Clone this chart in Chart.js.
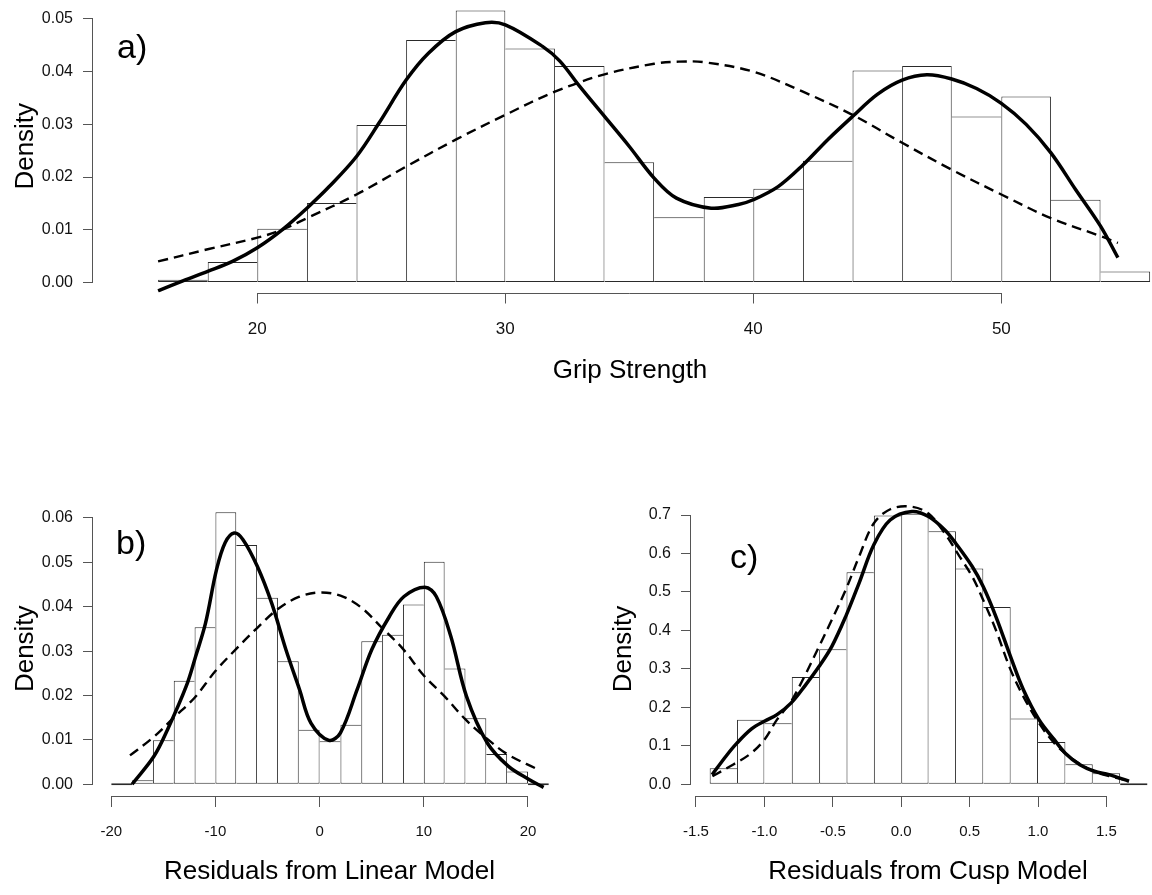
<!DOCTYPE html>
<html><head><meta charset="utf-8">
<script src="https://cdn.jsdelivr.net/npm/chart.js@4.4.1/dist/chart.umd.min.js"></script>
<style>
html,body{margin:0;padding:0;background:#fff;width:1152px;height:895px;overflow:hidden;position:relative;}
canvas{position:absolute;}
.lab{position:absolute;font-family:"Liberation Sans",Arial,sans-serif;font-size:34px;line-height:1;color:#000;}
</style></head><body>
<canvas id="ca" width="1167" height="400" style="left:0;top:0"></canvas>
<canvas id="cb" width="566" height="415" style="left:0;top:480px"></canvas>
<canvas id="cc" width="567" height="415" style="left:598px;top:480px"></canvas>
<div class="lab" style="left:117px;top:29px">a)</div>
<div class="lab" style="left:116px;top:525px">b)</div>
<div class="lab" style="left:730px;top:539px">c)</div>
<script>
// ---------- Panel a: Grip Strength ----------
const aBinEdges = [16,18,20,22,24,26,28,30,32,34,36,38,40,42,44,46,48,50,52,54,56];
const aDensity = [0.0005,0.0039,0.0102,0.0151,0.0299,0.0460,0.0516,0.0444,0.0411,0.0228,0.0124,0.0162,0.0178,0.0231,0.0402,0.0411,0.0315,0.0353,0.0157,0.0021];
const aKernelX = [16.0,17.0,18.0,19.0,20.0,21.0,22.0,22.9,24.0,24.9,26.0,26.9,28.0,29.2,30.0,31.5,32.2,33.0,34.0,35.0,36.0,36.9,38.3,39.4,40.0,41.0,42.0,43.0,44.0,45.0,46.0,47.0,48.0,49.0,50.0,51.0,52.0,53.0,54.0,54.7];
const aKernelY = [-0.0016,0.0003,0.0021,0.0040,0.0066,0.0100,0.0141,0.0182,0.0239,0.0302,0.0384,0.0435,0.0476,0.0493,0.0489,0.0448,0.0420,0.0372,0.0315,0.0258,0.0198,0.0160,0.0141,0.0148,0.0157,0.0182,0.0223,0.0271,0.0315,0.0357,0.0384,0.0394,0.0386,0.0368,0.0340,0.0300,0.0246,0.0176,0.0107,0.0047];
const aNormalX = [16.0,18.0,20.0,21.0,22.0,24.0,26.0,28.0,30.0,32.0,34.0,36.0,37.0,38.0,40.0,42.0,44.0,46.0,48.0,50.0,52.0,54.0,54.7];
const aNormalY = [0.0040,0.0063,0.0085,0.0100,0.0122,0.0167,0.0220,0.0271,0.0318,0.0362,0.0395,0.0415,0.0419,0.0418,0.0400,0.0362,0.0318,0.0265,0.0214,0.0167,0.0122,0.0088,0.0075];
const aXTicks = [20,30,40,50];
const aXTickLabels = ['20','30','40','50'];
const aYTicks = [0,0.01,0.02,0.03,0.04,0.05];
const aYTickLabels = ['0.00','0.01','0.02','0.03','0.04','0.05'];

// ---------- Panel b: Residuals from Linear Model ----------
const bBinEdges = [-20,-18,-16,-14,-12,-10,-8,-6,-4,-2,0,2,4,6,8,10,12,14,16,18,20,22];
const bDensity = [0,0.0009,0.0099,0.0233,0.0354,0.0613,0.0539,0.0420,0.0277,0.0123,0.0097,0.0134,0.0322,0.0337,0.0405,0.0501,0.0261,0.0149,0.0068,0.0029,0];
const bKernelX = [-18.0,-15.9,-14.6,-12.8,-11.9,-10.95,-9.9,-9.07,-8.2,-7.35,-5.98,-4.6,-3.23,-1.92,-0.83,0.89,2.0,3.6,5.0,6.7,8.1,10.1,11.2,12.6,14.1,16.1,18.1,20.1,21.5];
const bKernelY = [0.0000,0.0063,0.0123,0.0221,0.0288,0.0363,0.0483,0.0544,0.0566,0.0551,0.0491,0.0408,0.0303,0.0213,0.0138,0.0099,0.0116,0.0213,0.0303,0.0378,0.0423,0.0444,0.0423,0.0333,0.0198,0.0093,0.0041,0.0011,-0.0007];
const bNormalX = [-18.2,-16,-14,-12,-10,-8,-6,-4,-2,0,2,4,6,8,10,12,14,16,18,20.8];
const bNormalY = [0.0065,0.0105,0.0150,0.0195,0.0255,0.0305,0.0352,0.0395,0.0422,0.0432,0.0425,0.0398,0.0352,0.0305,0.0245,0.0198,0.0146,0.0104,0.0068,0.0035];
const bXTicks = [-20,-10,0,10,20];
const bXTickLabels = ['-20','-10','0','10','20'];
const bYTicks = [0,0.01,0.02,0.03,0.04,0.05,0.06];
const bYTickLabels = ['0.00','0.01','0.02','0.03','0.04','0.05','0.06'];

// ---------- Panel c: Residuals from Cusp Model ----------
const cBinEdges = [-1.4,-1.2,-1.0,-0.8,-0.6,-0.4,-0.2,0.0,0.2,0.4,0.6,0.8,1.0,1.2,1.4,1.6,1.8];
const cDensity = [0.042,0.168,0.159,0.279,0.351,0.551,0.699,0.703,0.658,0.561,0.461,0.171,0.110,0.052,0.029,0];
const cKernelX = [-1.382,-1.281,-1.201,-1.094,-1.0,-0.908,-0.806,-0.708,-0.601,-0.508,-0.406,-0.308,-0.201,-0.081,0.079,0.199,0.319,0.399,0.519,0.599,0.692,0.799,0.893,1.007,1.119,1.199,1.306,1.412,1.519,1.665];
const cKernelY = [0.025,0.073,0.107,0.144,0.164,0.181,0.211,0.254,0.306,0.358,0.436,0.523,0.622,0.687,0.709,0.696,0.661,0.626,0.566,0.514,0.436,0.332,0.246,0.168,0.116,0.081,0.051,0.034,0.025,0.008];
const cNormalX = [-1.38,-1.23,-1.10,-1.0,-0.908,-0.806,-0.708,-0.601,-0.508,-0.406,-0.308,-0.201,-0.08,0.066,0.199,0.319,0.427,0.519,0.599,0.692,0.799,0.893,1.007,1.119,1.226,1.333,1.44,1.546,1.626];
const cNormalY = [0.021,0.051,0.080,0.116,0.168,0.215,0.280,0.358,0.427,0.505,0.592,0.678,0.715,0.722,0.704,0.652,0.592,0.540,0.479,0.401,0.298,0.228,0.159,0.107,0.073,0.047,0.029,0.019,0.012];
const cXTicks = [-1.5,-1.0,-0.5,0.0,0.5,1.0,1.5];
const cXTickLabels = ['-1.5','-1.0','-0.5','0.0','0.5','1.0','1.5'];
const cYTicks = [0,0.1,0.2,0.3,0.4,0.5,0.6,0.7];
const cYTickLabels = ['0.0','0.1','0.2','0.3','0.4','0.5','0.6','0.7'];

const FONT = "'Liberation Sans', Arial, sans-serif";
const AXIS_COLOR = '#555';

const rAxes = {
  id: 'rAxes',
  afterDraw(chart) {
    const {ctx, chartArea} = chart;
    const x = chart.scales.x, y = chart.scales.y;
    const xt = x.ticks, yt = y.ticks;
    ctx.save();
    ctx.strokeStyle = AXIS_COLOR;
    ctx.lineWidth = 1;
    ctx.beginPath();
    const yb = Math.round(chartArea.bottom) + 0.5;
    ctx.moveTo(x.getPixelForValue(xt[0].value), yb);
    ctx.lineTo(x.getPixelForValue(xt[xt.length - 1].value), yb);
    const xl = Math.round(chartArea.left) - 0.5;
    ctx.moveTo(xl, y.getPixelForValue(yt[0].value));
    ctx.lineTo(xl, y.getPixelForValue(yt[yt.length - 1].value));
    ctx.stroke();
    ctx.restore();
  }
};

function histPoints(edges, dens) {
  return dens.map((d, i) => ({x: (edges[i] + edges[i + 1]) / 2, y: d}));
}
function curve(xs, ys) {
  return xs.map((v, i) => ({x: v, y: ys[i]}));
}

function makePanel(id, cfg) {
  const canvas = document.getElementById(id);
  const H = canvas.height;
  const d = cfg.density;
  const n = d.length;
  // each shared bin edge is drawn once, by the taller of the two neighbouring bars
  const bw = (c) => {
    const i = c.dataIndex;
    return {
      top: 1, bottom: 1,
      left: (i === 0 || d[i - 1] <= d[i]) ? 1 : 0,
      right: (i === n - 1 || d[i + 1] < d[i]) ? 1 : 0
    };
  };
  return new Chart(canvas, {
    type: 'bar',
    data: {
      datasets: [
        {
          type: 'line', data: curve(cfg.kx, cfg.ky), order: 1,
          borderColor: '#000', borderWidth: 3.5, pointRadius: 0, fill: false, tension: 0.35
        },
        {
          type: 'line', data: curve(cfg.nx, cfg.ny), order: 2,
          borderColor: '#000', borderWidth: 2.4, borderDash: [10, 6], pointRadius: 0, fill: false, tension: 0.35
        },
        {
          type: 'bar', data: histPoints(cfg.edges, d), order: 3,
          backgroundColor: '#fff', borderColor: '#2a2a2a', borderWidth: bw,
          borderSkipped: false, inflateAmount: 0, minBarLength: 2,
          barPercentage: 1, categoryPercentage: 1, grouped: false
        }
      ]
    },
    options: {
      responsive: false, animation: false, devicePixelRatio: 1,
      layout: {padding: {top: cfg.padTop, left: 0, right: 0, bottom: 0}},
      plugins: {legend: {display: false}, tooltip: {enabled: false}},
      scales: {
        x: {
          type: 'linear', position: 'bottom', min: cfg.xmin, max: cfg.xmax, bounds: 'data', offset: false,
          afterBuildTicks: (s) => { s.ticks = cfg.xticks.map(v => ({value: v})); },
          afterFit: (s) => { s.height = H - cfg.plotBottom; s.paddingLeft = 0; s.paddingRight = 0; },
          grid: {display: true, drawOnChartArea: false, drawTicks: true, tickLength: 11, tickColor: AXIS_COLOR, offset: false},
          border: {display: false},
          ticks: {autoSkip: false, maxRotation: 0, padding: 16, color: '#111',
                  font: {family: FONT, size: cfg.xTickSize},
                  callback: (v, i) => cfg.xlabels[i]},
          title: {display: true, text: cfg.xtitle, color: '#000', font: {family: FONT, size: 26},
                  padding: {top: 0, bottom: cfg.xTitlePad}}
        },
        y: {
          type: 'linear', position: 'left', min: cfg.ymin, max: cfg.ymax, bounds: 'data',
          afterBuildTicks: (s) => { s.ticks = cfg.yticks.map(v => ({value: v})); },
          afterFit: (s) => { s.width = 93; s.paddingTop = 0; s.paddingBottom = 0; },
          grid: {display: true, drawOnChartArea: false, drawTicks: true, tickLength: 10, tickColor: AXIS_COLOR},
          border: {display: false},
          ticks: {autoSkip: false, padding: 10, color: '#111',
                  font: {family: FONT, size: 16},
                  callback: (v, i) => cfg.ylabels[i]},
          title: {display: true, text: 'Density', color: '#000', font: {family: FONT, size: 26},
                  padding: {top: 10, bottom: 0}}
        }
      }
    },
    plugins: [rAxes]
  });
}

makePanel('ca', {
  edges: aBinEdges, density: aDensity, kx: aKernelX, ky: aKernelY, nx: aNormalX, ny: aNormalY,
  xticks: aXTicks, xlabels: aXTickLabels, yticks: aYTicks, ylabels: aYTickLabels,
  xmin: 13.375, xmax: 56.68, ymin: -0.0019, ymax: 0.0536,
  padTop: 0, plotBottom: 292.5, xTickSize: 17, xTitlePad: 13.7, xtitle: 'Grip Strength'
});
makePanel('cb', {
  edges: bBinEdges, density: bDensity, kx: bKernelX, ky: bKernelY, nx: bNormalX, ny: bNormalY,
  xticks: bXTicks, xlabels: bXTickLabels, yticks: bYTicks, ylabels: bYTickLabels,
  xmin: -21.75, xmax: 23.65, ymin: -0.00264, ymax: 0.0637,
  padTop: 21.5, plotBottom: 316, xTickSize: 15, xTitlePad: 7.7, xtitle: 'Residuals from Linear Model'
});
makePanel('cc', {
  edges: cBinEdges, density: cDensity, kx: cKernelX, ky: cKernelY, nx: cNormalX, ny: cNormalY,
  xticks: cXTicks, xlabels: cXTickLabels, yticks: cYTicks, ylabels: cYTickLabels,
  xmin: -1.5365, xmax: 1.928, ymin: -0.0304, ymax: 0.7338,
  padTop: 22, plotBottom: 316, xTickSize: 15, xTitlePad: 7.7, xtitle: 'Residuals from Cusp Model'
});
</script>
</body></html>
